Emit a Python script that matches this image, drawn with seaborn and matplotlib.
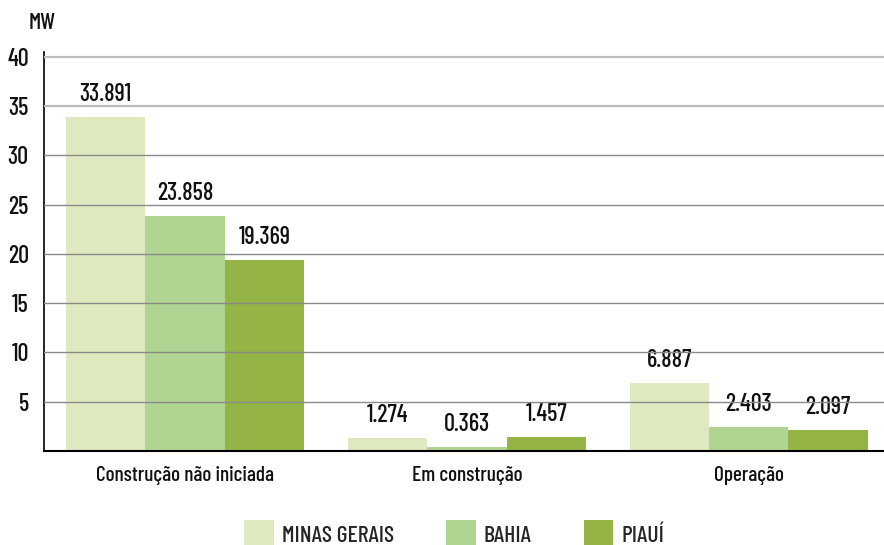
import matplotlib
matplotlib.use('agg')
import matplotlib.pyplot as plt
from matplotlib.patches import Patch
import seaborn as sns
import pandas as pd

# dados (valores como aparecem no gráfico)
fases = ["Construção não iniciada", "Em construção", "Operação"]
estados = ["MINAS GERAIS", "BAHIA", "PIAUÍ"]
minas_gerais = [33.891, 1.274, 6.887]
bahia = [23.858, 0.363, 2.403]
piaui = [19.369, 1.457, 2.097]
y_ticks = [5, 10, 15, 20, 25, 30, 35, 40]

cores = ["#dee9c0", "#b0d492", "#94b446"]

df = pd.DataFrame({
    "fase": fases * 3,
    "estado": [estados[0]] * 3 + [estados[1]] * 3 + [estados[2]] * 3,
    "mw": minas_gerais + bahia + piaui,
})

sns.set_theme(style="white")
plt.rcParams['font.family'] = ['Barlow Condensed', 'DejaVu Sans']
plt.rcParams['font.weight'] = 500

fig = plt.figure(figsize=(8.84, 5.45), dpi=100)
ax = fig.add_axes([0.0498, 0.1725, 0.9502, 0.7321])

g = sns.barplot(data=df, x="fase", y="mw", hue="estado", palette=cores,
                saturation=1, width=0.845, legend=False, ax=ax)

for c in g.containers:
    for p in c:
        p.set_zorder(1)
        p.set_edgecolor("none")
    g.bar_label(c, labels=["%.3f" % v for v in c.datavalues], padding=8,
                fontsize=17.5, color="#111111", zorder=2)

ax.set_xlim(-0.5, 2.48)
ax.set_ylim(0, 40.5)
ax.set_yticks(y_ticks)
ax.set_yticklabels([str(t) for t in y_ticks], fontsize=17.5, color="#111111")
ax.tick_params(axis="x", labelsize=15.3, colors="#111111", pad=11, length=0)
ax.tick_params(axis="y", pad=11, length=0)
ax.set_xlabel("")
ax.set_ylabel("")

# linhas de grade por cima das barras
for t in y_ticks:
    if t >= 35:
        ax.axhline(t, color="#bdbdbd", linewidth=1.6, zorder=3)
    else:
        ax.axhline(t, color="#8a8a8a", linewidth=1, zorder=3)

for s in ["top", "right"]:
    ax.spines[s].set_visible(False)
ax.spines["left"].set_color("black")
ax.spines["left"].set_linewidth(1.2)
ax.spines["bottom"].set_color("black")
ax.spines["bottom"].set_linewidth(1.5)
ax.spines["bottom"].set_zorder(4)

fig.text(0.048, 0.958, "MW", fontsize=16.5, ha="center", va="center", color="#111111")

handles = [Patch(facecolor=c, edgecolor="none") for c in cores]
fig.legend(handles, estados, loc="center", bbox_to_anchor=(0.514, 0.02), ncol=3,
           frameon=False, fontsize=17, handlelength=1.25, handleheight=1.45,
           handletextpad=0.35, columnspacing=2.2)

fig.savefig("out.png", dpi=100)
